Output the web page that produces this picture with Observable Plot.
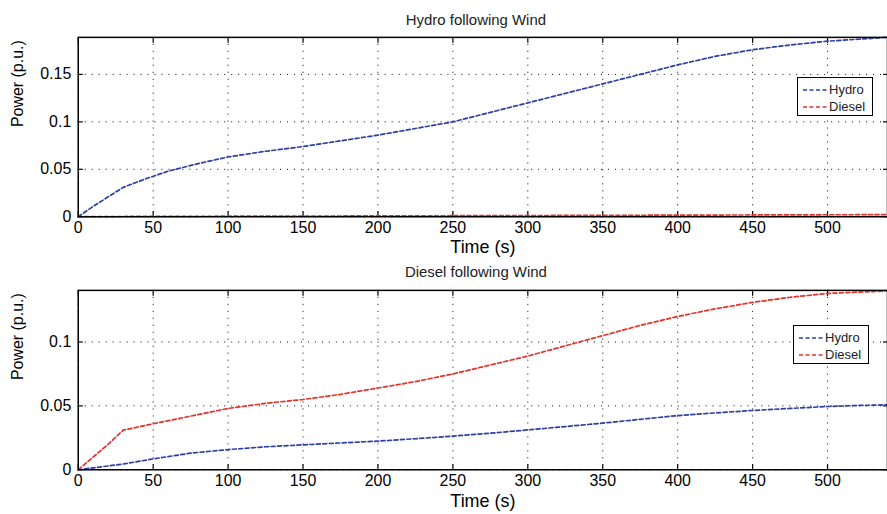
<!DOCTYPE html>
<html><head><meta charset="utf-8">
<script src="https://cdn.jsdelivr.net/npm/d3@7"></script>
<script src="https://cdn.jsdelivr.net/npm/@observablehq/plot@0.6"></script>
<style>
body{margin:0;background:#fff;font-family:"Liberation Sans",Arial,sans-serif;}
#wrap{position:relative;width:887px;height:514px;overflow:hidden;background:#fff;}
#wrap svg{display:block;}
.legend{position:absolute;box-sizing:border-box;border:1.5px solid #000;background:#fff;font-size:13px;color:#222;padding:3px 4px 0 5px;line-height:17px;}
.legend div{display:flex;align-items:center;white-space:nowrap;}
.legend svg{display:inline-block;margin-right:2px;}
</style></head>
<body><div id="wrap"></div>
<script>
// ---- data ----
const seriesNames = ["Hydro", "Diesel"];
const seriesColors = ["#2c3fa8", "#e4312b"];
const xTicks = [0, 50, 100, 150, 200, 250, 300, 350, 400, 450, 500];
const yTicksTop = [0, 0.05, 0.1, 0.15];
const yTicksBottom = [0, 0.05, 0.1];

// Panel 1: Hydro following Wind
const timeTopHydro = [0,10,20,30,45,60,80,100,125,150,175,200,225,250,275,300,325,350,375,400,425,450,475,500,520,540];
const hydroTop =     [0,0.011,0.021,0.031,0.040,0.048,0.056,0.063,0.069,0.074,0.080,0.086,0.093,0.100,0.110,0.120,0.130,0.140,0.150,0.160,0.169,0.176,0.181,0.185,0.187,0.189];
const timeTopDiesel = [0,30,100,200,250,300,400,450,500,540];
const dieselTop =     [0,0.0003,0.0006,0.0009,0.0011,0.0013,0.0017,0.0019,0.0021,0.0022];

// Panel 2: Diesel following Wind
const timeBottom = [0,10,20,30,50,75,100,125,150,175,200,225,250,275,300,325,350,375,400,425,450,475,500,520,540];
const dieselBottom = [0,0.010,0.020,0.031,0.036,0.042,0.048,0.052,0.055,0.059,0.064,0.069,0.075,0.082,0.089,0.097,0.105,0.113,0.120,0.126,0.131,0.135,0.138,0.139,0.140];
const hydroBottom =  [0,0.0015,0.003,0.0045,0.0085,0.013,0.0158,0.018,0.0195,0.021,0.0224,0.0243,0.0263,0.0286,0.0312,0.0338,0.0365,0.0395,0.0424,0.0445,0.0464,0.048,0.0495,0.0503,0.0508];

function rows(name, t, v) { return t.map((x, i) => ({t: x, v: v[i], name})); }

function panel({title, data, yDomain, yTicks, height, marginTop, marginBottom, titleDy, labelDy}) {
  const dots = {stroke: "#000", strokeOpacity: 1, strokeWidth: 1, strokeDasharray: "1,6"};
  return Plot.plot({
    width: 890, height, marginLeft: 78, marginRight: 0, marginTop, marginBottom,
    style: {fontFamily: "Liberation Sans, Arial, sans-serif", fontSize: "16px", color: "#000", background: "transparent", overflow: "visible"},
    x: {domain: [0, 540]},
    y: {domain: yDomain},
    color: {domain: seriesNames, range: seriesColors},
    marks: [
      Plot.gridX(xTicks, dots),
      Plot.gridY(yTicks, dots),
      Plot.axisX(xTicks, {anchor: "bottom", tickSize: -5, tickPadding: 10, label: null, fontSize: 16, strokeWidth: 1.2}),
      Plot.axisX(xTicks, {anchor: "top", tickSize: -5, tickFormat: () => "", label: null, strokeWidth: 1.2}),
      Plot.axisY(yTicks, {anchor: "left", tickSize: -5, tickPadding: 12, label: null, fontSize: 16, tickFormat: d => String(d), strokeWidth: 1.2}),
      Plot.axisY(yTicks, {anchor: "right", tickSize: -5, tickFormat: () => "", label: null, strokeWidth: 1.2}),
      Plot.line(data, {x: "t", y: "v", z: "name", stroke: "name", strokeWidth: 1.7, strokeDasharray: "4,2.5"}),
      Plot.frame({stroke: "#000", strokeWidth: 1.5}),
      Plot.text([title], {frameAnchor: "top", lineAnchor: "middle", dy: titleDy, dx: -7, fontSize: 15, fill: "#222"}),
      Plot.text(["Time (s)"], {frameAnchor: "bottom", lineAnchor: "middle", dy: labelDy, fontSize: 18}),
      Plot.text(["Power (p.u.)"], {frameAnchor: "left", lineAnchor: "middle", rotate: -90, dx: -60.5, fontSize: 16})
    ]
  });
}

const wrap = document.getElementById("wrap");
wrap.appendChild(panel({
  title: "Hydro following Wind",
  data: [...rows("Hydro", timeTopHydro, hydroTop), ...rows("Diesel", timeTopDiesel, dieselTop)],
  yDomain: [0, 0.189], yTicks: yTicksTop,
  height: 257, marginTop: 37, marginBottom: 40, titleDy: -17, labelDy: 31
}));
wrap.appendChild(panel({
  title: "Diesel following Wind",
  data: [...rows("Hydro", timeBottom, hydroBottom), ...rows("Diesel", timeBottom, dieselBottom)],
  yDomain: [0, 0.1404], yTicks: yTicksBottom,
  height: 257, marginTop: 34, marginBottom: 43, titleDy: -18, labelDy: 32
}));

function legend(left, top) {
  const box = document.createElement("div");
  box.className = "legend";
  Object.assign(box.style, {left: left + "px", top: top + "px", width: "76px", height: "39px"});
  seriesNames.forEach((n, i) => {
    const row = document.createElement("div");
    row.innerHTML = `<svg width="24" height="6"><line x1="0" y1="3" x2="24" y2="3" stroke="${seriesColors[i]}" stroke-width="1.7" stroke-dasharray="4,2.5"/></svg><span>${n}</span>`;
    box.appendChild(row);
  });
  wrap.appendChild(box);
}
legend(797, 77);
legend(793, 325);
</script>
</body></html>
